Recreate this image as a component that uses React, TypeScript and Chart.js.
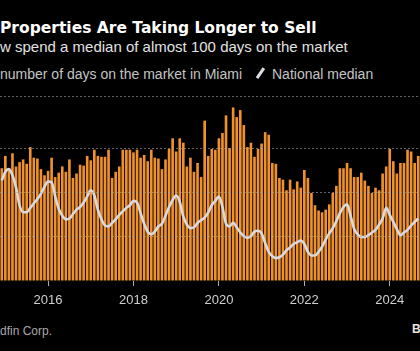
import React, { useEffect, useRef } from "react";
import { Chart, registerables } from "chart.js";

Chart.register(...registerables);

// Monthly series, Dec 2014 .. Sep 2024
const FIRST_YEAR = 2014;
const FIRST_MONTH = 12; // December

const miamiDays: number[] = [
  128,
  142, 128, 145, 130, 135, 138, 133, 152, 140, 139, 127, 120,
  125, 140, 118, 123, 130, 124, 138, 117, 122, 132, 131, 142,
  137, 149, 142, 141, 141, 149, 117, 124, 130, 149, 149, 149,
  146, 149, 140, 143, 136, 149, 140, 139, 127, 138, 150, 162,
  147, 162, 157, 130, 140, 124, 134, 118, 182, 142, 150, 149,
  162, 168, 188, 151, 197, 186, 194, 177, 152, 157, 141, 150,
  156, 169, 166, 134, 133, 117, 115, 103, 115, 104, 113, 106,
  126, 117, 100, 86, 80, 78, 81, 87, 100, 108, 128, 128,
  134, 128, 118, 118, 123, 114, 108, 100, 106, 103, 122, 130,
  150, 136, 122, 134, 134, 149, 147, 134, 142,
];

const nationalDays: number[] = [
  114,
  124, 127, 120, 106, 86, 78, 78, 83, 88, 93, 99, 107,
  113, 112, 96, 82, 74, 70, 71, 76, 81, 84, 89, 96,
  103, 97, 81, 70, 63, 62, 66, 70, 75, 79, 83, 86,
  91, 89, 77, 65, 56, 53, 56, 62, 65, 74, 84, 92,
  97, 90, 73, 64, 60, 61, 66, 69, 72, 78, 86, 91,
  96, 84, 65, 62, 66, 61, 55, 51, 49, 51, 56, 57,
  54, 43, 33, 28, 26, 27, 30, 35, 38, 42, 44, 46,
  42, 33, 29, 29, 33, 39, 47, 54, 60, 68, 77, 84,
  87, 74, 59, 53, 50, 50, 52, 55, 58, 64, 71, 83,
  75, 67, 59, 52, 55, 58, 63, 67, 71,
];

const yearTicks: string[] = ["2016", "2018", "2020", "2022", "2024"];

const months: string[] = [];
for (let i = 0; i < miamiDays.length; i++) {
  const t = FIRST_MONTH - 1 + i;
  const y = FIRST_YEAR + Math.floor(t / 12);
  const mo = (t % 12) + 1;
  months.push(`${y}-${String(mo).padStart(2, "0")}`);
}

const SANS = '"Liberation Sans", Arial, sans-serif';

export default function App() {
  const ref = useRef<HTMLCanvasElement | null>(null);

  useEffect(() => {
    if (!ref.current) return;
    const chart = new Chart(ref.current, {
      type: "bar",
      data: {
        labels: months,
        datasets: [
          {
            type: "line",
            label: "National median",
            data: nationalDays,
            borderColor: "#d9d9e2",
            borderWidth: 2.6,
            pointRadius: 0,
            cubicInterpolationMode: "monotone",
            order: 1,
          } as any,
          {
            type: "bar",
            label: "Miami",
            data: miamiDays,
            backgroundColor: "#ef912d",
            borderWidth: 0,
            barPercentage: 0.74,
            categoryPercentage: 1,
            order: 2,
          },
        ],
      },
      options: {
        animation: false,
        responsive: false,
        devicePixelRatio: 1,
        layout: { padding: 0 },
        plugins: { legend: { display: false }, tooltip: { enabled: false } },
        scales: {
          x: {
            grid: {
              display: true,
              drawOnChartArea: false,
              drawTicks: true,
              tickLength: 5,
              tickColor: "#b0b0b0",
              offset: false,
            },
            border: { display: false },
            ticks: {
              autoSkip: false,
              maxRotation: 0,
              minRotation: 0,
              padding: 7,
              color: "#cfcfcf",
              font: { family: SANS, size: 13 },
              callback: (_v: any, i: number) => {
                const lab = months[i];
                if (!lab) return null;
                const [y, m] = lab.split("-");
                return m === "01" && yearTicks.includes(y) ? y : null;
              },
            },
            afterFit: (s: any) => {
              s.height = 30;
            },
          },
          y: {
            min: 0,
            max: 210,
            ticks: { display: false, stepSize: 50 },
            border: { display: false, dash: [2, 2] },
            grid: {
              drawTicks: false,
              z: 1,
              lineWidth: 1,
              color: (ctx: any) =>
                ctx.tick && ctx.tick.value === 0 ? "rgba(0,0,0,0)" : "rgba(165,165,165,0.6)",
            },
          },
        },
      },
    });
    return () => chart.destroy();
  }, []);

  const base: React.CSSProperties = { position: "absolute", whiteSpace: "nowrap" };

  return (
    <div
      style={{
        position: "fixed",
        left: 0,
        top: 0,
        width: 420,
        height: 351,
        background: "#000",
        overflow: "hidden",
      }}
    >
      <div
        style={{
          ...base,
          left: 0,
          top: 21,
          fontFamily: '"DejaVu Sans", sans-serif',
          fontWeight: 700,
          fontSize: 15.5,
          lineHeight: "15.5px",
          color: "#ffffff",
        }}
      >
        Properties Are Taking Longer to Sell
      </div>
      <div
        style={{
          ...base,
          left: 0,
          top: 39,
          fontFamily: SANS,
          fontSize: 15,
          lineHeight: "15px",
          color: "#e2e2e2",
        }}
      >
        w spend a median of almost 100 days on the market
      </div>
      <div
        style={{
          ...base,
          left: 0,
          top: 66.5,
          fontFamily: SANS,
          fontSize: 14,
          lineHeight: "14px",
          color: "#c4c4c4",
        }}
      >
        number of days on the market in Miami
      </div>
      <div
        style={{
          position: "absolute",
          left: 258.5,
          top: 67,
          width: 2.5,
          height: 12,
          background: "#dcdce4",
          transform: "rotate(35deg)",
        }}
      />
      <div
        style={{
          ...base,
          left: 272,
          top: 66.5,
          fontFamily: SANS,
          fontSize: 14,
          lineHeight: "14px",
          color: "#c4c4c4",
        }}
      >
        National median
      </div>
      <canvas
        ref={ref}
        width={420}
        height={215}
        style={{ position: "absolute", left: 0, top: 96, width: 420, height: 215 }}
      />
      <div
        style={{
          ...base,
          left: 0,
          top: 325,
          fontFamily: SANS,
          fontSize: 12,
          lineHeight: "12px",
          color: "#a8a8a8",
        }}
      >
        dfin Corp.
      </div>
      <div
        style={{
          ...base,
          left: 412,
          top: 323,
          fontFamily: SANS,
          fontWeight: 700,
          fontSize: 12,
          lineHeight: "12px",
          color: "#e6e6e6",
        }}
      >
        Bloomberg
      </div>
    </div>
  );
}
